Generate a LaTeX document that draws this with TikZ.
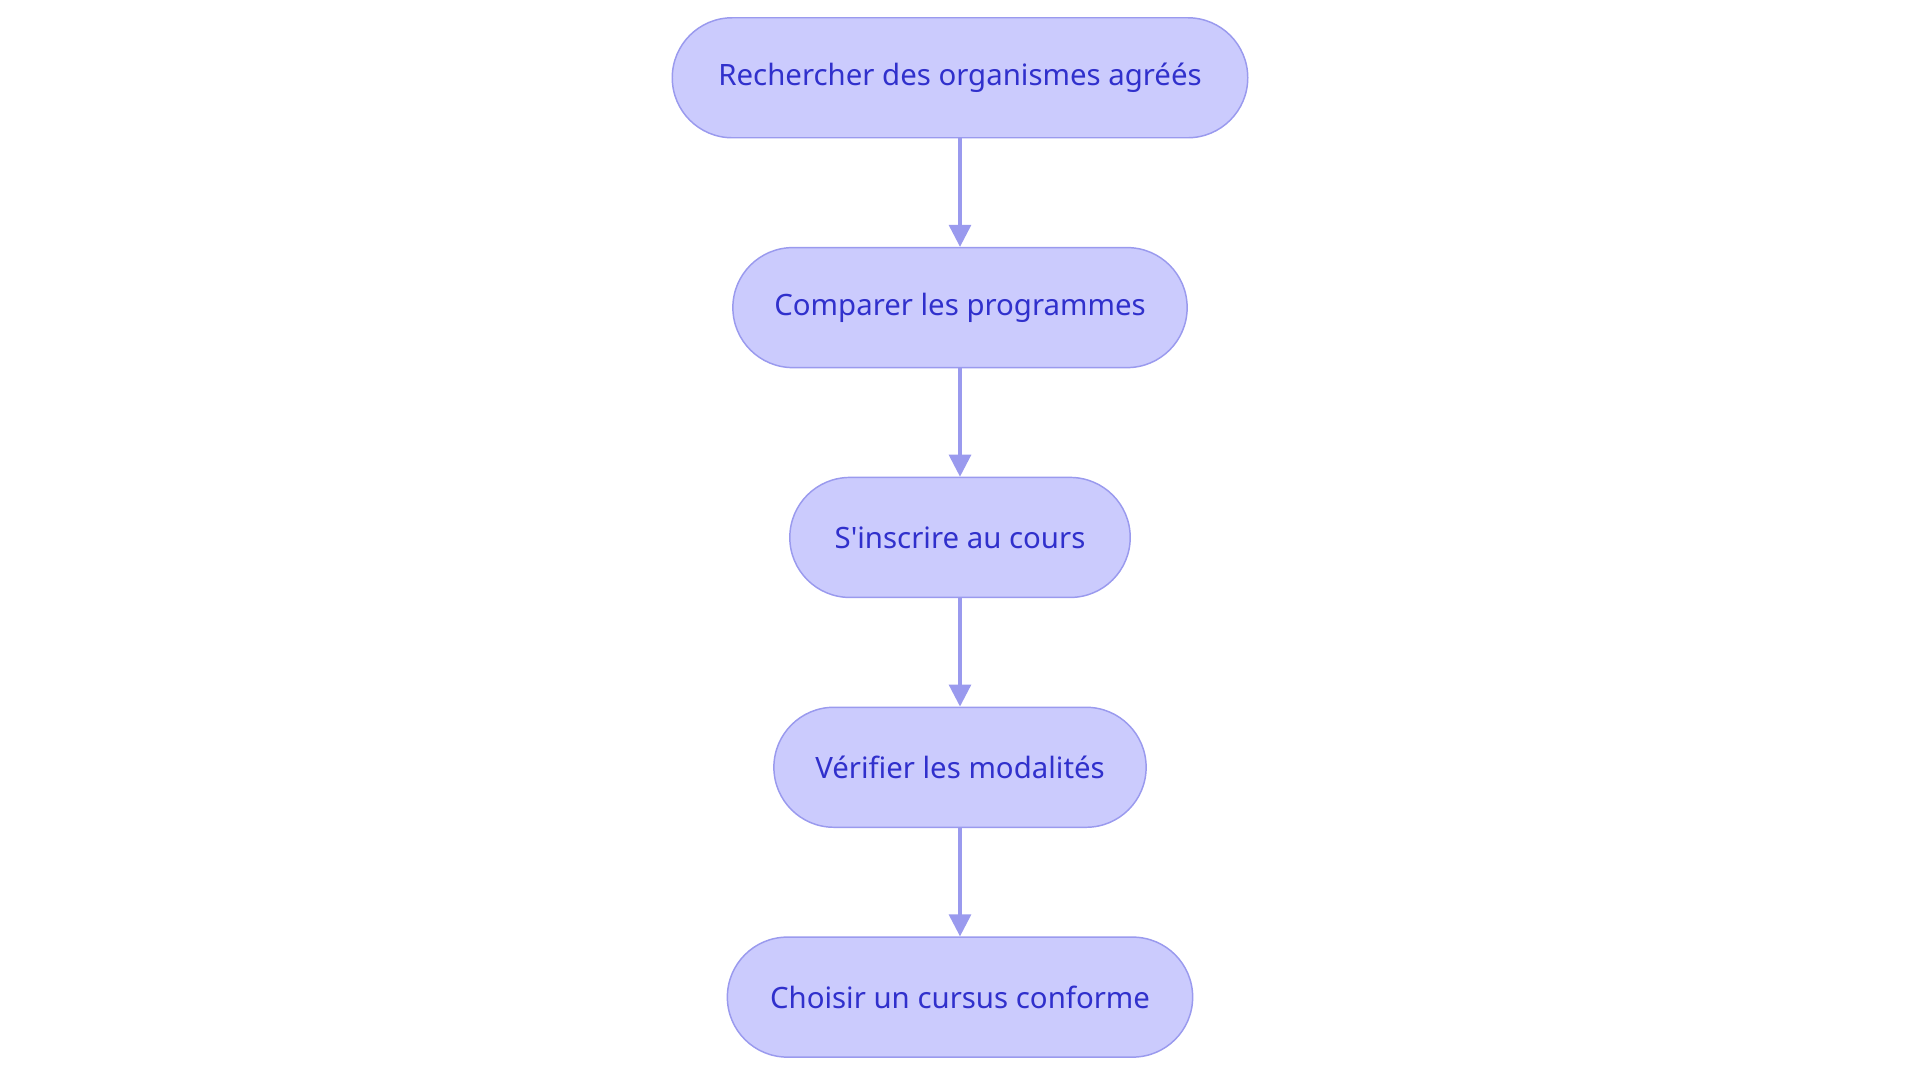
\documentclass[tikz,border=0pt]{standalone}
\usepackage{fontspec}
\setmainfont{Noto Sans}
\usetikzlibrary{arrows.meta, positioning}
\definecolor{stepfill}{HTML}{CBCBFD}
\definecolor{stepdraw}{HTML}{9A9AEE}
\definecolor{steptext}{HTML}{3030CC}
\begin{document}
\begin{tikzpicture}[
        x=1pt, y=-1pt,
        node distance=88.5pt,
        stage/.style={
            rectangle,
            rounded corners=49pt,
            minimum height=98pt,
            text centered,
            draw=stepdraw,
            line width=1.2pt,
            fill=stepfill,
            text=steptext,
            font=\fontsize{24}{28}\selectfont
        },
        arrow/.style={
            line width=2.5pt,
            draw=stepdraw,
            -{Triangle[length=18pt,width=18pt]}
        }
    ]
    \useasboundingbox (0,0) rectangle (1568,884);

    % Nodes
    \node (search) [stage, minimum width=470pt] at (784,63.5) {Rechercher des organismes agréés};
    \node (compare) [stage, minimum width=371pt, below=of search] {Comparer les programmes};
    \node (enrol) [stage, minimum width=278pt, below=of compare] {S\textquotesingle inscrire au cours};
    \node (check) [stage, minimum width=304pt, below=of enrol] {Vérifier les modalités};
    \node (choose) [stage, minimum width=380pt, below=of check] {Choisir un cursus conforme};

    % Arrows
    \draw [arrow] (search) -- (compare);
    \draw [arrow] (compare) -- (enrol);
    \draw [arrow] (enrol) -- (check);
    \draw [arrow] (check) -- (choose);

\end{tikzpicture}
\end{document}
